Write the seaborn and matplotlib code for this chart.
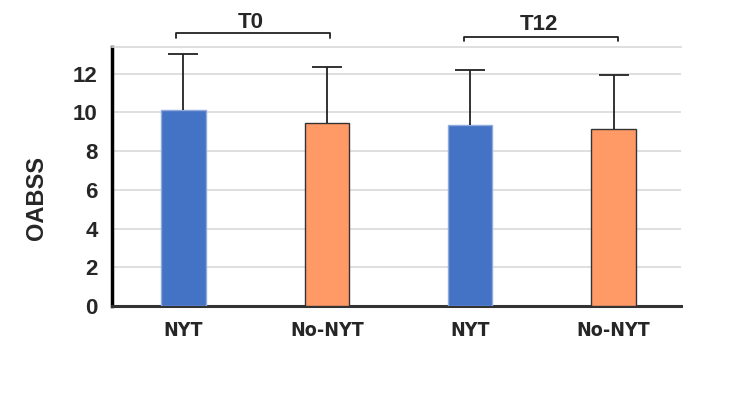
import matplotlib
matplotlib.use("Agg")
import matplotlib.pyplot as plt
import seaborn as sns
import pandas as pd

# Data
groups = ["NYT", "No-NYT", "NYT", "No-NYT"]
timepoints = ["T0", "T0", "T12", "T12"]
means = [10.15, 9.43, 9.33, 9.12]
upper_err = [2.87, 2.92, 2.86, 2.81]
bar_colors = ["#4472C4", "#FF9966", "#4472C4", "#FF9966"]
edge_colors = ["#8FAADC", "#333333", "#8FAADC", "#333333"]

df = pd.DataFrame({"pos": [0, 1, 2, 3], "group": groups, "time": timepoints, "OABSS": means})

sns.set_style("white")
plt.rcParams["font.family"] = ["Liberation Sans", "DejaVu Sans"]

fig = plt.figure(figsize=(7.5, 4.16), dpi=100)
ax = fig.add_axes([0.149, 0.2644, 0.759, 0.6236])

sns.barplot(data=df, x="pos", y="OABSS", hue="pos", palette=bar_colors, saturation=1,
            width=0.31, legend=False, ax=ax, errorbar=None, zorder=3)
for patch, ec in zip(ax.patches, edge_colors):
    patch.set_edgecolor(ec)
    patch.set_linewidth(1.0)

eb = ax.errorbar(df["pos"], means, yerr=[[0] * 4, upper_err], fmt="none",
                 ecolor="#222222", elinewidth=1.3, capsize=11, capthick=1.3, zorder=4)
# only the upper cap is shown
eb[1][0].remove()

ax.set_xlim(-0.5, 3.47)
ax.set_ylim(0, 13.4)
ax.set_yticks(range(0, 13, 2))
ax.set_xticks(range(4))
ax.set_xticklabels(groups, fontsize=14, fontweight="bold",
                   family="DejaVu Sans", fontstretch="condensed")
ax.tick_params(axis="y", labelsize=16, pad=10, length=0)
ax.tick_params(axis="x", pad=11, length=0)
for lab in ax.get_yticklabels():
    lab.set_fontweight("bold")

ax.yaxis.grid(True, color="#d9d9d9", linewidth=1.2, zorder=0)
ax.set_axisbelow(True)
ax.set_xlabel("")
ax.set_ylabel("OABSS", fontsize=17, fontweight="bold")
ax.yaxis.set_label_coords(-0.112, 0.416)

ax.spines["right"].set_visible(False)
ax.spines["top"].set_color("#d9d9d9")
ax.spines["top"].set_linewidth(1.2)
ax.spines["left"].set_color("black")
ax.spines["left"].set_linewidth(2.5)
ax.spines["bottom"].set_color("#333333")
ax.spines["bottom"].set_linewidth(2.2)

# Brackets over the time points
for (x0, x1, label, ytop, ytext) in [(-0.05, 1.02, "T0", 14.08, 14.37),
                                     (1.96, 3.03, "T12", 13.92, 14.26)]:
    ax.plot([x0, x0, x1, x1], [ytop - 0.25, ytop, ytop, ytop - 0.25],
            color="#222222", linewidth=1.3, clip_on=False)
    ax.text((x0 + x1) / 2 - 0.015, ytext, label, ha="center", va="baseline",
            fontsize=16, fontweight="bold")

fig.savefig("out.png", dpi=100)
